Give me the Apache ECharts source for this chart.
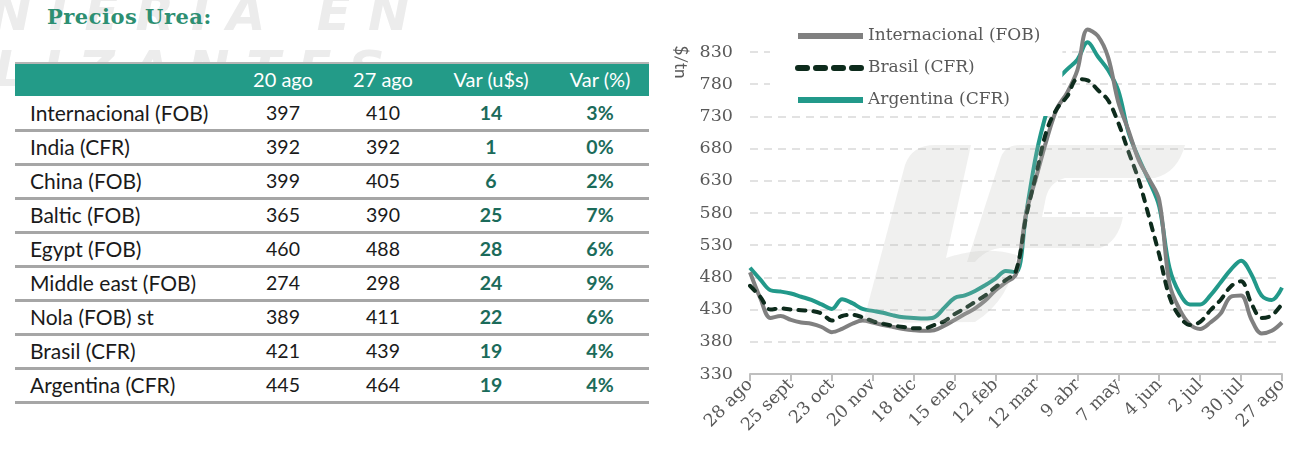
<!DOCTYPE html>
<html><head><meta charset="utf-8">
<script src="https://cdn.jsdelivr.net/npm/echarts@6/dist/echarts.min.js"></script>
<style>
body{margin:0;width:1310px;height:453px;overflow:hidden;background:#fff;position:relative;font-family:Lato,sans-serif}
.wm{position:absolute;font-family:'DejaVu Sans',sans-serif;font-weight:bold;font-style:italic;color:#ececec;font-size:50px;letter-spacing:17px;white-space:nowrap;line-height:1}
#title{position:absolute;left:47px;top:4px;font-family:'DejaVu Serif',serif;font-weight:bold;font-size:21px;letter-spacing:0.5px;color:#2d8f72}
.band{position:absolute;left:15px;top:62px;width:634px;height:34px;background:#239b88;border-top:2px solid #b5b5b5;box-sizing:border-box}
.cell{position:absolute;height:34px;line-height:34px;font-size:19.5px;color:#1a1a1a;white-space:nowrap}
.lbl{font-size:21px}
.num{width:100px;text-align:center}
.hdr{color:#fff;font-size:20px}
.var{color:#1b6b5a;font-weight:bold}
.sep{position:absolute;left:15px;width:634px;height:3px;background:#a6a6a6}
#chart{position:absolute;left:660px;top:0;width:650px;height:453px}
#logo{position:absolute;left:0;top:0;width:1310px;height:453px;pointer-events:none;z-index:5}
</style></head><body>
<div class="wm" style="left:-10px;top:-12px">NIERIA EN</div>
<div class="wm" style="left:-6px;top:44px">LIZANTES</div>
<div id="title">Precios Urea:</div>
<div id="table"></div>
<div id="chart"></div>
<svg id="logo" viewBox="0 0 1310 453">
  <path d="M905 165 Q912 145 935 145 L971 145 L946 258 Q985 245 1017 255 Q1010 300 975 322 L863 323 Z" fill="rgba(185,185,180,0.22)"/>
  <path d="M1000 160 Q1004 145 1020 145 L1185 145 Q1178 172 1155 178 L1065 178 Q1050 182 1046 197 L1042 217 L1123 217 Q1118 242 1100 248 L1000 248 Q985 250 975 262 L967 262 Z" fill="rgba(185,185,180,0.22)"/>
</svg>
<script>
// ---- table data ----
const tableHeaders = ['20 ago', '27 ago', 'Var (u$s)', 'Var (%)'];
const tableNames = ['Internacional (FOB)', 'India (CFR)', 'China (FOB)', 'Baltic (FOB)', 'Egypt (FOB)', 'Middle east (FOB)', 'Nola (FOB) st', 'Brasil (CFR)', 'Argentina (CFR)'];
const price20ago = [397, 392, 399, 365, 460, 274, 389, 421, 445];
const price27ago = [410, 392, 405, 390, 488, 298, 411, 439, 464];
const varUsd = [14, 1, 6, 25, 28, 24, 22, 19, 19];
const varPct = ['3%', '0%', '2%', '7%', '6%', '9%', '6%', '4%', '4%'];

// ---- chart data ----
const weeks = ['28 ago','4 sept','11 sept','18 sept','25 sept','2 oct','9 oct','16 oct','23 oct','30 oct',
  '6 nov','13 nov','20 nov','27 nov','4 dic','11 dic','18 dic','25 dic','1 ene','8 ene',
  '15 ene','22 ene','29 ene','5 feb','12 feb','19 feb','26 feb','5 mar','12 mar','19 mar',
  '26 mar','2 abr','9 abr','16 abr','23 abr','30 abr','7 may','14 may','21 may','28 may',
  '4 jun','11 jun','18 jun','25 jun','2 jul','9 jul','16 jul','23 jul','30 jul','6 ago',
  '13 ago','20 ago','27 ago'];
const internacional = [488,448,417,420,414,410,408,403,395,400,408,413,410,406,403,400,398,397,398,405,
  414,423,432,444,460,472,485,580,637,694,742,767,802,865,855,822,752,708,662,633,
  600,470,430,407,400,410,424,450,452,415,393,397,410];
const brasil = [467,450,430,432,430,429,428,424,413,420,422,418,412,408,405,403,401,401,406,412,
  423,432,442,452,465,476,490,575,642,708,742,761,788,786,771,755,720,675,631,574,
  515,450,419,406,411,429,445,466,474,440,417,421,439];
const argentina = [495,477,460,458,455,450,445,438,431,446,440,431,428,425,421,418,417,416,418,433,
  448,452,459,468,478,490,488,580,673,737,785,803,818,845,823,802,770,705,665,630,
  590,495,455,438,438,452,472,492,506,485,452,445,464];
const yTicks = {min: 330, max: 830, step: 50};

// ---- build table ----
const tbl = document.getElementById('table');
const colCenters = [283, 383, 491, 600];
function add(cls, text, left, top) {
  const d = document.createElement('div');
  d.className = cls; d.textContent = text;
  d.style.left = left + 'px'; d.style.top = top + 'px';
  tbl.appendChild(d);
}
const band = document.createElement('div'); band.className = 'band'; tbl.appendChild(band);
tableHeaders.forEach((h, i) => add('cell num hdr', h, colCenters[i] - 50, 62));
tableNames.forEach((n, r) => {
  const top = 96 + r * 34;
  add('cell lbl', n, 30, top);
  add('cell num', String(price20ago[r]), colCenters[0] - 50, top);
  add('cell num', String(price27ago[r]), colCenters[1] - 50, top);
  add('cell num var', String(varUsd[r]), colCenters[2] - 50, top);
  add('cell num var', varPct[r], colCenters[3] - 50, top);
  const s = document.createElement('div'); s.className = 'sep';
  s.style.top = (top + 34 - 1.5) + 'px'; tbl.appendChild(s);
});

// ---- chart ----
const chart = echarts.init(document.getElementById('chart'));
const serif = 'DejaVu Serif';
const axisGray = '#595959';
const cGray = '#808080', cDark = '#0d2b1c', cTeal = '#22998a';
chart.setOption({
  animation: false,
  grid: {left: 90, right: 28, top: 52, bottom: 79},
  xAxis: {
    type: 'category', data: weeks, boundaryGap: false,
    axisLine: {lineStyle: {color: '#bfbfbf', width: 2}},
    axisTick: {interval: 3, length: 7, lineStyle: {color: '#bfbfbf', width: 2}},
    axisLabel: {interval: 3, rotate: 45, fontFamily: serif, fontSize: 17.5, color: axisGray, margin: 8}
  },
  yAxis: {
    type: 'value', min: yTicks.min, max: yTicks.max, interval: yTicks.step,
    axisLine: {show: false}, axisTick: {show: false},
    axisLabel: {fontFamily: serif, fontSize: 17.5, color: axisGray, margin: 17},
    splitLine: {lineStyle: {type: [8, 6], color: '#d9d9d9', width: 1.5}}
  },
  legend: {
    orient: 'vertical', left: 110, top: 0,
    padding: [26, 22, 6, 25], itemGap: 12, itemWidth: 65, itemHeight: 14,
    backgroundColor: '#fff',
    itemStyle: {opacity: 0},
    textStyle: {fontFamily: serif, fontSize: 17, color: axisGray, lineHeight: 20},
    data: [
      {name: 'Internacional (FOB)', lineStyle: {width: 6, color: cGray}},
      {name: 'Brasil (CFR)', lineStyle: {width: 6, color: cDark, type: [9, 9], cap: 'round'}},
      {name: 'Argentina (CFR)', lineStyle: {width: 6, color: cTeal}}
    ]
  },
  graphic: [
    {type: 'text', x: 20, y: 62, rotation: -Math.PI / 2,
     style: {text: '$/tn', fontFamily: 'Lato', fontSize: 17, fill: axisGray, align: 'center', verticalAlign: 'middle'}}
  ],
  series: [
    {name: 'Internacional (FOB)', type: 'line', data: internacional, smooth: 0.35, symbol: 'none', clip: false, z: 5,
     lineStyle: {color: cGray, width: 4}, itemStyle: {color: cGray}},
    {name: 'Brasil (CFR)', type: 'line', data: brasil, smooth: 0.35, symbol: 'none', clip: false, z: 6,
     lineStyle: {color: cDark, width: 4, type: [7, 8], cap: 'round'}, itemStyle: {color: cDark}},
    {name: 'Argentina (CFR)', type: 'line', data: argentina, smooth: 0.35, symbol: 'none', clip: false, z: 2,
     lineStyle: {color: cTeal, width: 4}, itemStyle: {color: cTeal}}
  ]
});
</script>
</body></html>
